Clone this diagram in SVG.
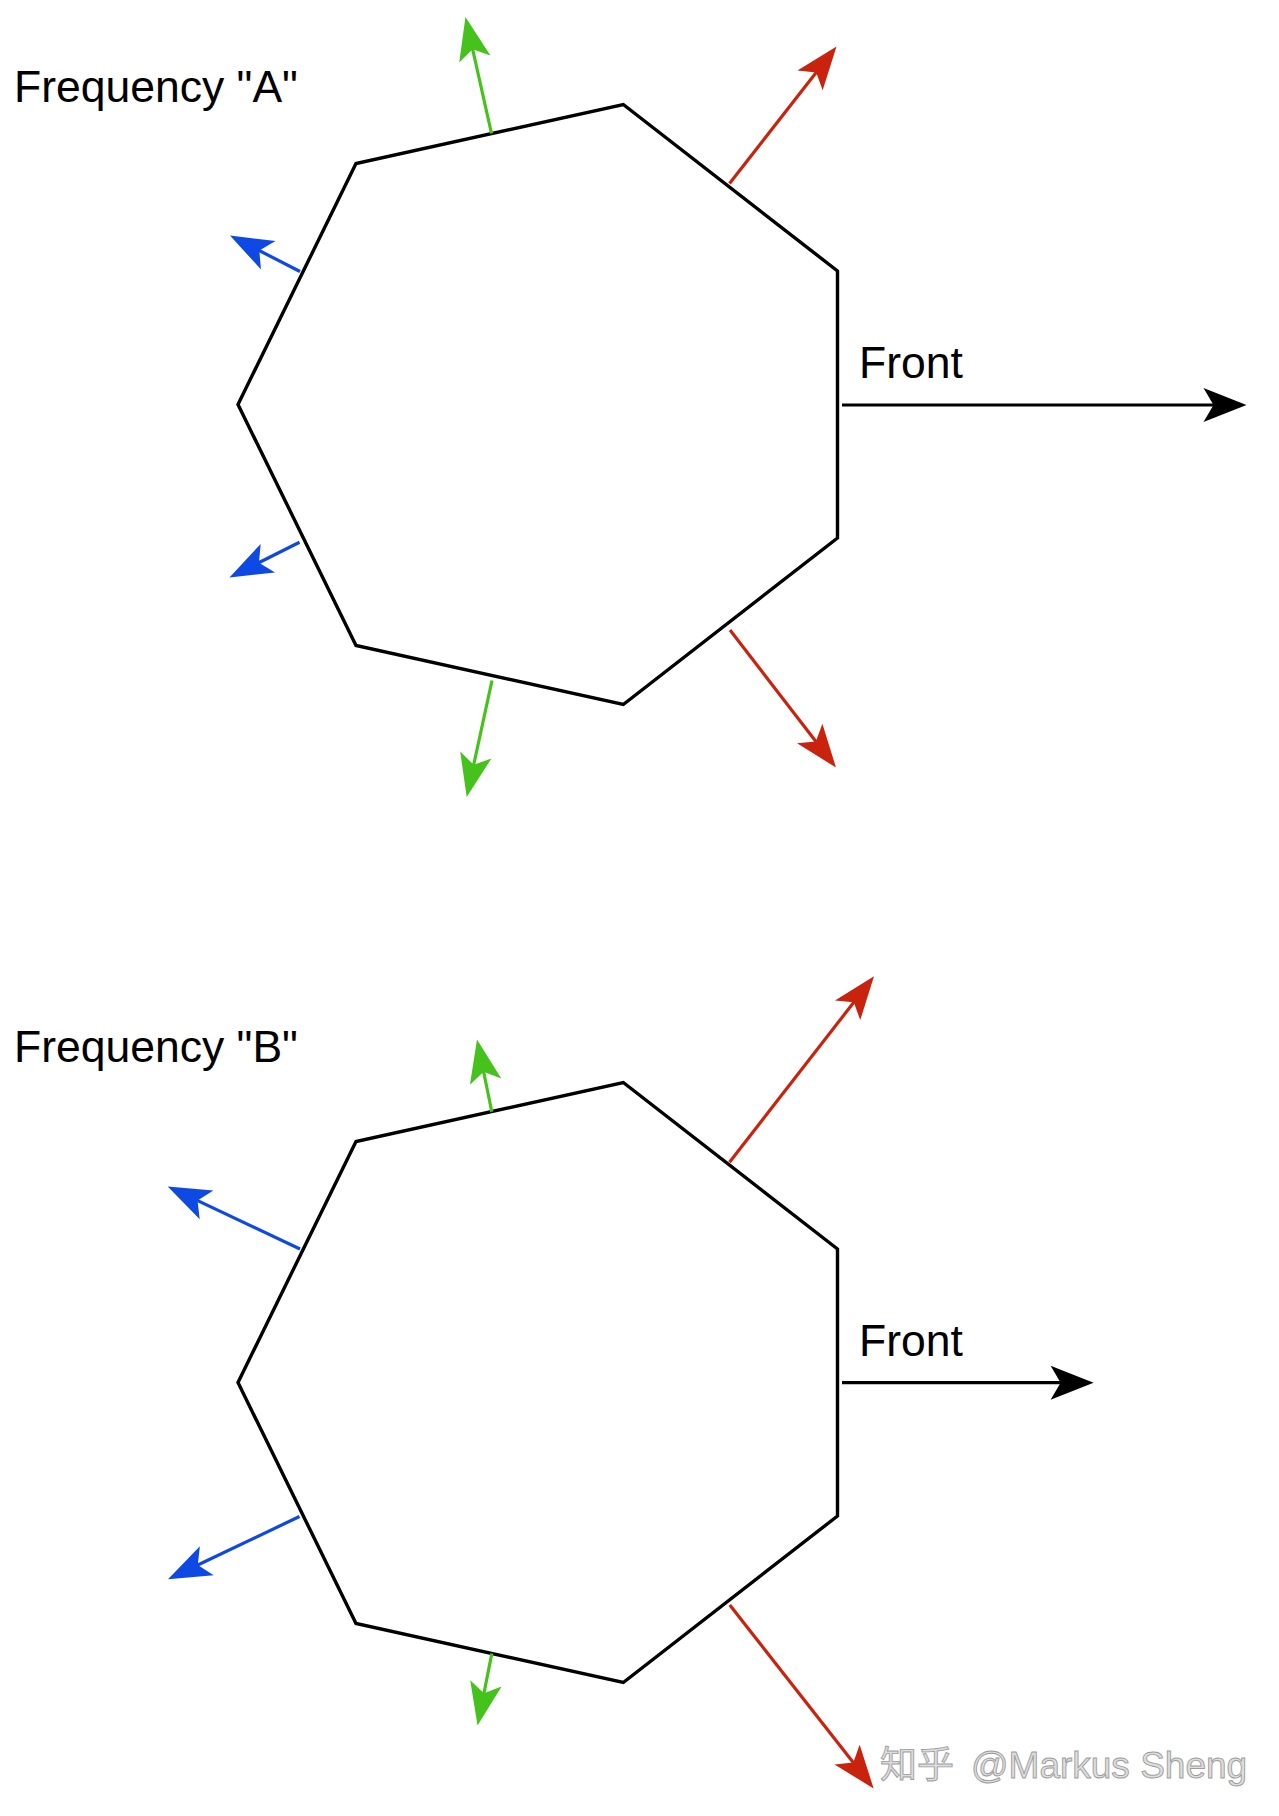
<svg xmlns="http://www.w3.org/2000/svg" width="1279" height="1816" viewBox="0 0 1279 1816">
<style>
.lbl{font-family:"Liberation Sans","Helvetica Neue",Arial,sans-serif;font-size:44.5px;fill:#000}
.hept{fill:none;stroke:#000;stroke-width:3.4;stroke-linejoin:miter}
.arr{fill:none;stroke-width:3.2;stroke-linecap:butt}
.k{stroke:#000}.g{stroke:#45c21b}.r{stroke:#c9230e}.b{stroke:#0f49e3}
.wm{font-family:"Liberation Sans","Noto Sans CJK SC",sans-serif;font-size:37px;fill:#dedede;stroke:#9c9c9c;stroke-width:0.9}
</style>
<defs>
<marker id="mk" markerUnits="userSpaceOnUse" viewBox="-36 -18 45 36" markerWidth="45" markerHeight="36" refX="0" refY="0" orient="auto"><path d="M8,0 L-35,-17 L-25,0 L-35,17 Z" fill="#000"/></marker>
<marker id="mg" markerUnits="userSpaceOnUse" viewBox="-36 -18 45 36" markerWidth="45" markerHeight="36" refX="0" refY="0" orient="auto"><path d="M8,0 L-35,-16 L-25,0 L-35,16 Z" fill="#45c21b"/></marker>
<marker id="mr" markerUnits="userSpaceOnUse" viewBox="-36 -18 45 36" markerWidth="45" markerHeight="36" refX="0" refY="0" orient="auto"><path d="M8,0 L-35,-16 L-25,0 L-35,16 Z" fill="#c9230e"/></marker>
<marker id="mb" markerUnits="userSpaceOnUse" viewBox="-36 -18 45 36" markerWidth="45" markerHeight="36" refX="0" refY="0" orient="auto"><path d="M8,0 L-35,-16 L-25,0 L-35,16 Z" fill="#0f49e3"/></marker>
</defs>
<g id="label-freq-a"><text class="lbl" x="14" y="102">Frequency "A"</text></g>
<g id="label-freq-b"><text class="lbl" x="14" y="1062">Frequency "B"</text></g>
<g id="heptagon-a"><polygon class="hept" points="623.3,104.5 837.5,271 837.5,538 623.3,704.5 356,645.5 238,404.5 356,163.5"/></g>
<g id="heptagon-b"><polygon class="hept" points="623.3,1082.5 837.5,1249 837.5,1516 623.3,1682.5 356,1623.5 238,1382.5 356,1141.5"/></g>
<g id="front-a"><text class="lbl" x="859" y="378">Front</text></g>
<g id="front-b"><text class="lbl" x="859" y="1356">Front</text></g>
<g id="connectors">
<line class="arr k" x1="842" y1="405" x2="1238.5" y2="405" marker-end="url(#mk)"/>
<line class="arr g" x1="491.5" y1="133.5" x2="467.2" y2="24.8" marker-end="url(#mg)"/>
<line class="arr r" x1="729.5" y1="183.5" x2="831.6" y2="52.8" marker-end="url(#mr)"/>
<line class="arr b" x1="300" y1="271.5" x2="237.1" y2="239.2" marker-end="url(#mb)"/>
<line class="arr b" x1="299.5" y1="542.3" x2="236.6" y2="573.9" marker-end="url(#mb)"/>
<line class="arr g" x1="492" y1="680.5" x2="468.4" y2="789.2" marker-end="url(#mg)"/>
<line class="arr r" x1="730" y1="630" x2="831.1" y2="761.2" marker-end="url(#mr)"/>
<line class="arr k" x1="842" y1="1382.7" x2="1085.6" y2="1382.7" marker-end="url(#mk)"/>
<line class="arr g" x1="491.8" y1="1111.8" x2="478.6" y2="1047.3" marker-end="url(#mg)"/>
<line class="arr r" x1="729.5" y1="1162.3" x2="869.1" y2="982.6" marker-end="url(#mr)"/>
<line class="arr b" x1="300" y1="1249" x2="174.9" y2="1189.9" marker-end="url(#mb)"/>
<line class="arr b" x1="299.5" y1="1516.5" x2="175.2" y2="1575.8" marker-end="url(#mb)"/>
<line class="arr g" x1="491.8" y1="1653.6" x2="479.1" y2="1717.7" marker-end="url(#mg)"/>
<line class="arr r" x1="729.8" y1="1605" x2="868.7" y2="1782.2" marker-end="url(#mr)"/>
</g>
<g id="watermark"><text class="wm" y="1778"><tspan x="880">知乎</tspan><tspan x="971">@Markus Sheng</tspan></text></g>
</svg>
